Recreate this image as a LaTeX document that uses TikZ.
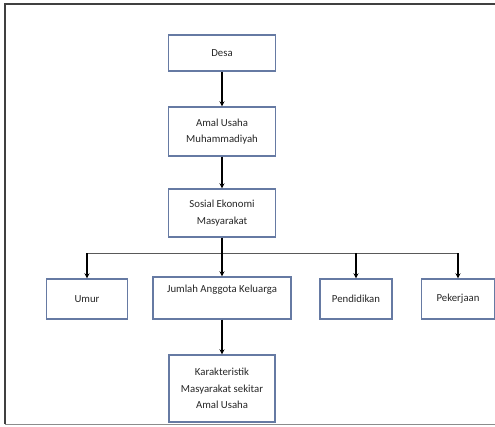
\documentclass[tikz,border=0pt]{standalone}
\usepackage{fontspec}
\setmainfont{Carlito}
\usepackage{xcolor}
\usetikzlibrary{arrows, positioning, shapes}
\usetikzlibrary{calc}
\definecolor{boxblue}{HTML}{667AA3}
\tikzstyle{link} = [line width=1.3pt,->,>=stealth]
\tikzstyle{bus} = [line width=0.7pt,draw=black!65]
\tikzstyle{box}=[draw=boxblue, line width=1.1pt, rectangle, align=center,
  text=black!85, font=\fontsize{10.8}{16.4}\selectfont]

\begin{document}
\begin{tikzpicture}[x=1bp,y=-1bp]
        \useasboundingbox (0,0) rectangle (495,426);
        % page frame
        \draw[line width=1.6pt,black!75] (5,424) -- (5,4) -- (495,4);
        \draw[line width=1pt,black!45] (5,424) -- (495,424);

        \node (desa) [box, minimum width=107bp, minimum height=36bp] at (222,53) {Desa};
        \node (amal) [box, minimum width=107bp, minimum height=49bp] at (222,131.5) {Amal Usaha\\Muhammadiyah};
        \node (sosial) [box, minimum width=107bp, minimum height=48bp] at (222,213) {Sosial Ekonomi\\Masyarakat};
        \draw [link] (desa) -- (amal);
        \draw [link] (amal) -- (sosial);

        \node (umur) [box, minimum width=81bp, minimum height=40bp] at (87,299) {Umur};
        \node (jumlah) [box, minimum width=138bp, minimum height=42bp] at (222,298) {Jumlah Anggota Keluarga\\[-2bp]\strut};
        \node (pendidikan) [box, minimum width=72bp, minimum height=40bp] at (356,299) {Pendidikan};
        \node (pekerjaan) [box, minimum width=73bp, minimum height=40bp] at (458,299) {Pekerjaan};

        \coordinate (split) at (222,253);
        \draw [bus] (umur.north |- split) -- (pekerjaan.north |- split);
        \draw [link] (sosial) -- (jumlah);
        \draw [link] (umur.north |- split) -- (umur.north);
        \draw [link] (pendidikan.north |- split) -- (pendidikan.north);
        \draw [link] (pekerjaan.north |- split) -- (pekerjaan.north);

        \node (karakter) [box, minimum width=106bp, minimum height=67bp] at (222,388.5) {Karakteristik\\Masyarakat sekitar\\Amal Usaha};
        \draw [link] (jumlah) -- (karakter);

      \end{tikzpicture}
\end{document}
